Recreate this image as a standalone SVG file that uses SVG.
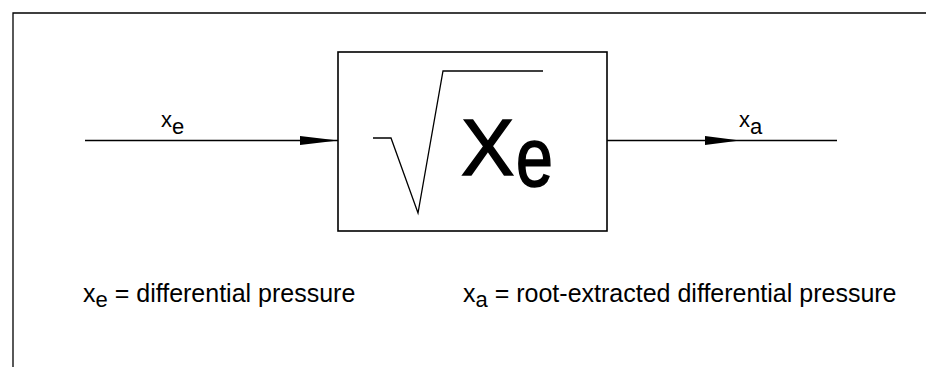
<svg xmlns="http://www.w3.org/2000/svg" width="926" height="367" viewBox="0 0 926 367">
<style>
.ln{stroke:#000;stroke-width:1.3;fill:none}
.bx{stroke:#000;stroke-width:1.6;fill:#fff}
.t{font-family:"Liberation Sans",Arial,sans-serif;fill:#000}
.big{stroke:#000;stroke-width:1.5}
</style>
<defs>
<marker id="ah" markerWidth="38" markerHeight="10" refX="38" refY="5" markerUnits="userSpaceOnUse" orient="auto">
<path d="M0,0.5 L38,5 L0,9.5 Z" fill="#000"/>
</marker>
</defs>
<rect width="926" height="367" fill="#fff"/>
<path class="ln" d="M13,367 L13,13 L926,13"/>
<g id="connectors">
<line class="ln" x1="85" y1="140.5" x2="338" y2="140.5" marker-end="url(#ah)"/>
<line class="ln" x1="607" y1="140.5" x2="837" y2="140.5"/>
<path d="M705,136 L740,140.5 L705,145 Z" fill="#000"/>
</g>
<g id="block">
<rect class="bx" x="338" y="52" width="269" height="179"/>
<path class="ln" d="M373,138 L391,138 L418,213 L443,71 L543,71"/>
<text class="t big" x="461" y="175" font-size="80">X</text>
<text class="t big" x="516" y="186" font-size="72" transform="translate(516,186) scale(0.92,1.15) translate(-516,-186)">e</text>
</g>
<g id="label-xe">
<text class="t" x="161" y="127" font-size="22">x<tspan dy="7">e</tspan></text>
</g>
<g id="label-xa">
<text class="t" x="739" y="127" font-size="22">x<tspan dy="7">a</tspan></text>
</g>
<g id="legend">
<text class="t" x="83" y="302" font-size="25">x<tspan font-size="22" dy="5">e</tspan><tspan dy="-5"> = differential pressure</tspan></text>
<text class="t" x="463" y="302" font-size="25">x<tspan font-size="22" dy="5">a</tspan><tspan dy="-5"> = root-extracted differential pressure</tspan></text>
</g>
</svg>
